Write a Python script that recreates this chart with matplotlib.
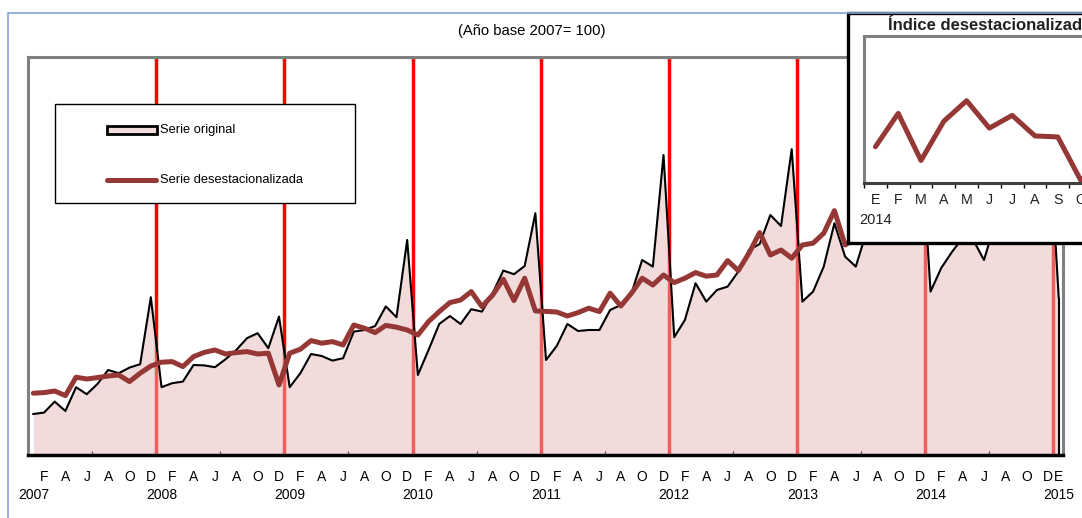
import numpy as np
import matplotlib
matplotlib.use("Agg")
import matplotlib.pyplot as plt
from matplotlib import font_manager
from matplotlib.patches import Rectangle
from matplotlib.lines import Line2D

# monthly index, Jan 2007 .. Jan 2015 (base 2007 = 100)
serie_original = [
    80.5, 81.2, 86.7, 82.0, 93.9, 90.4, 95.5, 102.5, 100.9, 103.7, 105.4, 138.9,
    93.9, 95.9, 96.7, 105.0, 104.8, 103.9, 107.9, 112.5, 118.4, 120.9, 113.4, 129.2,
    93.9, 100.9, 110.5, 109.5, 107.2, 108.4, 121.7, 122.5, 124.5, 134.3, 128.9, 167.5,
    100.0, 112.5, 125.5, 129.5, 125.5, 132.9, 131.7, 140.9, 152.2, 150.4, 154.5, 180.9,
    107.5, 114.5, 125.5, 122.0, 122.5, 122.5, 132.5, 135.0, 140.9, 157.5, 154.2, 210.0,
    118.9, 127.5, 145.9, 136.7, 142.5, 144.2, 151.7, 162.5, 165.5, 180.0, 174.5, 212.9,
    136.7, 141.7, 154.2, 175.9, 159.2, 154.2, 171.5, 176.5, 167.5, 177.5, 185.0, 227.5,
    141.7, 153.5, 161.5, 168.5, 167.5, 157.5, 175.0, 180.0, 181.5, 187.5, 190.0, 230.0,
    138.5,
]
serie_desest = [
    90.9, 91.2, 92.0, 89.7, 98.9, 98.0, 98.7, 99.5, 100.0, 96.7, 100.9, 104.5,
    106.4, 106.7, 104.2, 109.2, 111.3, 112.5, 110.5, 111.2, 111.7, 110.5, 110.9, 95.0,
    110.9, 112.9, 117.2, 115.9, 116.7, 115.0, 125.0, 123.4, 121.2, 124.8, 123.9, 122.5,
    120.0, 126.7, 131.7, 136.2, 137.5, 141.7, 134.2, 140.0, 147.9, 137.2, 148.4, 132.0,
    131.8, 131.5, 129.5, 131.2, 133.4, 131.7, 140.9, 134.5, 140.9, 148.4, 145.0, 150.0,
    146.2, 148.4, 151.2, 149.4, 150.0, 157.2, 152.2, 160.9, 171.2, 160.0, 162.5, 158.4,
    165.0, 165.9, 170.9, 182.2, 165.0, 168.5, 169.5, 170.5, 171.5, 172.5, 173.5, 174.5,
    175.7, 179.1, 174.3, 178.3, 180.4, 177.6, 178.9, 176.8, 176.7, 172.3, 174.0, 176.5,
    175.5,
]
letras_mes = ["E", "F", "M", "A", "M", "J", "J", "A", "S", "O", "N", "D"]
anios = list(range(2007, 2016))
inset_letras = ["E", "F", "M", "A", "M", "J", "J", "A", "S", "O", "N", "D", "E"]
inset_valores = serie_desest[84:]

W, H = 1082, 518


def fx(px):
    return px / W


def fy(py):
    return 1 - py / H


def pick(fams):
    for f in fams:
        try:
            font_manager.findfont(f, fallback_to_default=False)
            return f
        except ValueError:
            pass
    return "DejaVu Sans"


narrow = pick(["Liberation Sans Narrow", "Liberation Sans"])
regular = pick(["Liberation Sans", "DejaVu Sans"])
is_narrow = narrow == "Liberation Sans Narrow"
fs_lab = 11 if is_narrow else 10
fs_leg = 10.5 if is_narrow else 9.3
fs_tit = 12 if is_narrow else 10.6

fig = plt.figure(figsize=(W / 100, H / 100), dpi=100)
fig.patch.set_facecolor("white")

# --- main chart ---
x0, x1, ytop, ybot = 28, 1063, 57, 455
ax = fig.add_axes([fx(x0), fy(ybot), fx(x1) - fx(x0), fy(ytop) - fy(ybot)])
months = np.arange(len(serie_original))
y_min, y_max = 60, 259
ax.set_xlim(-0.5, 96.4)
ax.set_ylim(y_min, y_max)

for k in range(1, 9):
    ax.axvline(12 * k - 0.5, color="#FF0000", lw=2.5, zorder=1)
ax.fill_between(months, serie_original, y_min, color="#E6B9B8", alpha=0.5, lw=0, zorder=2)
ax.plot(months, serie_original, color="black", lw=1.5, zorder=3)
ax.vlines(months[-1], y_min, serie_original[-1], color="black", lw=1.5, zorder=3)
ax.plot(months, serie_desest, color="#953735", lw=3.6, zorder=4, solid_capstyle="round")

for side in ["left", "top", "right"]:
    ax.spines[side].set_color("#808080")
    ax.spines[side].set_linewidth(2.2)
ax.spines["bottom"].set_color("black")
ax.spines["bottom"].set_linewidth(2.5)
ax.set_yticks([])
ax.set_xticks(np.arange(5.5, 96, 12))
ax.tick_params(axis="x", direction="in", length=3, width=1, labelbottom=False)

trans = ax.get_xaxis_transform()
y_mes = (ybot - 477) / (ybot - ytop)
y_anio = (ybot - 495) / (ybot - ytop)
for m in months:
    letra = letras_mes[m % 12]
    if m % 2 == 1 or m == months[-1]:
        ax.text(m, y_mes, letra, transform=trans, ha="center", va="center",
                fontsize=fs_lab, family=narrow, clip_on=False)
    if m % 12 == 0:
        ax.text(m, y_anio, str(anios[m // 12]), transform=trans, ha="center", va="center",
                fontsize=fs_lab, family=narrow, clip_on=False)

fig.text(fx(532), fy(31), "(Año base 2007= 100)", ha="center", va="center",
         fontsize=fs_tit, family=narrow)

# legend box
fig.patches.append(Rectangle((fx(55), fy(203)), fx(355) - fx(55), fy(104) - fy(203),
                             transform=fig.transFigure, facecolor="white",
                             edgecolor="black", lw=1, zorder=5))
fig.patches.append(Rectangle((fx(107), fy(134)), fx(157) - fx(107), fy(126) - fy(134),
                             transform=fig.transFigure, facecolor="#F2DCDB",
                             edgecolor="black", lw=2, zorder=6))
fig.lines.append(Line2D([fx(107), fx(156)], [fy(180), fy(180)], transform=fig.transFigure,
                        color="#953735", lw=3.6, solid_capstyle="round", zorder=6))
fig.text(fx(160), fy(130), "Serie original", ha="left", va="center",
         fontsize=fs_leg, family=narrow, zorder=7)
fig.text(fx(160), fy(180), "Serie desestacionalizada", ha="left", va="center",
         fontsize=fs_leg, family=narrow, zorder=7)

# --- inset ---
fig.patches.append(Rectangle((fx(848), fy(243)), fx(1110) - fx(848), fy(13) - fy(243),
                             transform=fig.transFigure, facecolor="white",
                             edgecolor="black", lw=2.4, zorder=8))
ix0, itop, ibot = 864, 36, 183
iw = 13 * 22.8
axi = fig.add_axes([fx(ix0), fy(ibot), iw / W, fy(itop) - fy(ibot)])
axi.set_zorder(9)
axi.set_facecolor("white")
im = np.arange(len(inset_valores))
axi.plot(im, inset_valores, color="#953735", lw=3.6, solid_capstyle="round")
axi.set_xlim(-0.5, 12.5)
axi.set_ylim(172, 187)
for side in ["left", "top", "right"]:
    axi.spines[side].set_color("#808080")
    axi.spines[side].set_linewidth(2.2)
axi.spines["bottom"].set_color("#404040")
axi.spines["bottom"].set_linewidth(2.2)
axi.set_yticks([])
axi.set_xticks(np.arange(-0.5, 13, 1))
axi.tick_params(axis="x", direction="out", length=3.5, width=1, labelbottom=False)
itrans = axi.get_xaxis_transform()
for i, letra in enumerate(inset_letras):
    axi.text(i, (ibot - 200) / (ibot - itop), letra, transform=itrans, ha="center",
             va="center", fontsize=10.3, family=regular, color="#222222", clip_on=False)
axi.text(0, (ibot - 220) / (ibot - itop), "2014", transform=itrans, ha="center",
         va="center", fontsize=10.5, family=regular, color="#222222", clip_on=False)
fig.text(fx(888), fy(25), "Índice desestacionalizado", ha="left", va="center",
         fontsize=12, fontweight="bold", family=regular, color="#222222", zorder=10)

# outer frame
fig.lines.append(Line2D([fx(8), fx(8), fx(1100)], [fy(530), fy(13), fy(13)],
                        transform=fig.transFigure, color="#7FA6D8", lw=1.2, zorder=11))

fig.savefig("out.png", dpi=100)
